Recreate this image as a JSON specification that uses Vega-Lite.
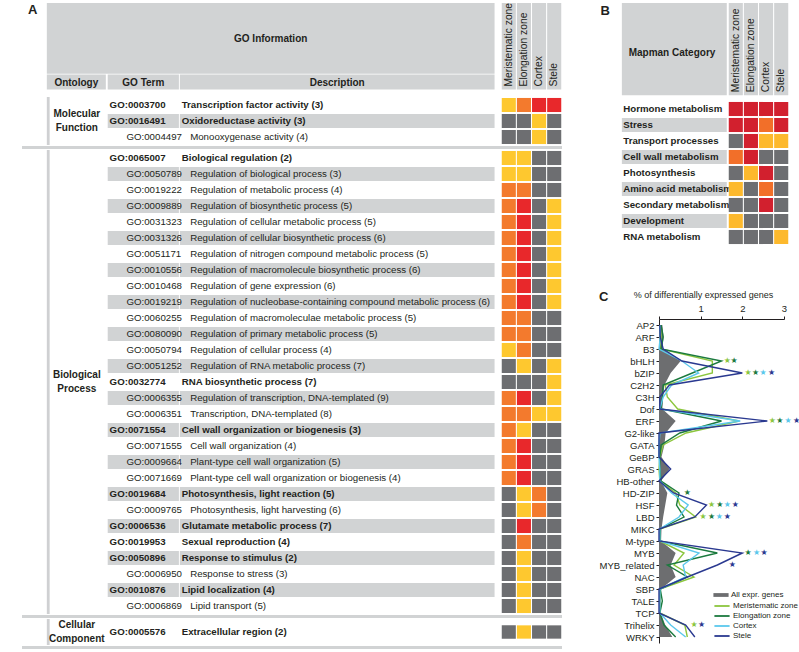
{
"$schema":"https://vega.github.io/schema/vega-lite/v6.json",
"background":"white",
"padding":{"left":0,"top":2,"right":0,"bottom":2},
"datasets":{
"zones":[{"key":"M","zone":"Meristematic zone"},{"key":"E","zone":"Elongation zone"},{"key":"C","zone":"Cortex"},{"key":"S","zone":"Stele"}],
"go":[
{"ont":"Molecular Function","id":"GO:0003700","desc":"Transcription factor activity (3)","lvl":0,"M":"1","E":"2","C":"3","S":"3"},
{"ont":"Molecular Function","id":"GO:0016491","desc":"Oxidoreductase activity (3)","lvl":0,"M":"ns","E":"ns","C":"1","S":"ns"},
{"ont":"Molecular Function","id":"GO:0004497","desc":"Monooxygenase activity (4)","lvl":1,"M":"ns","E":"ns","C":"1","S":"ns"},
{"ont":"Biological Process","id":"GO:0065007","desc":"Biological regulation (2)","lvl":0,"M":"1","E":"1","C":"ns","S":"ns"},
{"ont":"Biological Process","id":"GO:0050789","desc":"Regulation of biological process (3)","lvl":1,"M":"1","E":"1","C":"ns","S":"ns"},
{"ont":"Biological Process","id":"GO:0019222","desc":"Regulation of metabolic process (4)","lvl":1,"M":"2","E":"2","C":"ns","S":"ns"},
{"ont":"Biological Process","id":"GO:0009889","desc":"Regulation of biosynthetic process (5)","lvl":1,"M":"2","E":"3","C":"ns","S":"1"},
{"ont":"Biological Process","id":"GO:0031323","desc":"Regulation of cellular metabolic process (5)","lvl":1,"M":"2","E":"3","C":"ns","S":"1"},
{"ont":"Biological Process","id":"GO:0031326","desc":"Regulation of cellular biosynthetic process (6)","lvl":1,"M":"2","E":"3","C":"ns","S":"1"},
{"ont":"Biological Process","id":"GO:0051171","desc":"Regulation of nitrogen compound metabolic process (5)","lvl":1,"M":"2","E":"3","C":"ns","S":"1"},
{"ont":"Biological Process","id":"GO:0010556","desc":"Regulation of macromolecule biosynthetic process (6)","lvl":1,"M":"2","E":"3","C":"ns","S":"1"},
{"ont":"Biological Process","id":"GO:0010468","desc":"Regulation of gene expression (6)","lvl":1,"M":"2","E":"3","C":"ns","S":"1"},
{"ont":"Biological Process","id":"GO:0019219","desc":"Regulation of nucleobase-containing compound metabolic process (6)","lvl":1,"M":"2","E":"3","C":"ns","S":"1"},
{"ont":"Biological Process","id":"GO:0060255","desc":"Regulation of macromoleculae metabolic process (5)","lvl":1,"M":"2","E":"2","C":"ns","S":"ns"},
{"ont":"Biological Process","id":"GO:0080090","desc":"Regulation of primary metabolic process (5)","lvl":1,"M":"2","E":"2","C":"ns","S":"ns"},
{"ont":"Biological Process","id":"GO:0050794","desc":"Regulation of cellular process (4)","lvl":1,"M":"1","E":"2","C":"ns","S":"ns"},
{"ont":"Biological Process","id":"GO:0051252","desc":"Regulation of RNA metabolic process (7)","lvl":1,"M":"ns","E":"1","C":"ns","S":"1"},
{"ont":"Biological Process","id":"GO:0032774","desc":"RNA biosynthetic process (7)","lvl":0,"M":"ns","E":"ns","C":"ns","S":"1"},
{"ont":"Biological Process","id":"GO:0006355","desc":"Regulation of transcription, DNA-templated (9)","lvl":1,"M":"2","E":"3","C":"ns","S":"1"},
{"ont":"Biological Process","id":"GO:0006351","desc":"Transcription, DNA-templated (8)","lvl":1,"M":"2","E":"2","C":"1","S":"1"},
{"ont":"Biological Process","id":"GO:0071554","desc":"Cell wall organization or biogenesis (3)","lvl":0,"M":"2","E":"1","C":"ns","S":"ns"},
{"ont":"Biological Process","id":"GO:0071555","desc":"Cell wall organization (4)","lvl":1,"M":"2","E":"3","C":"ns","S":"ns"},
{"ont":"Biological Process","id":"GO:0009664","desc":"Plant-type cell wall organization (5)","lvl":1,"M":"2","E":"3","C":"ns","S":"ns"},
{"ont":"Biological Process","id":"GO:0071669","desc":"Plant-type cell wall organization or biogenesis (4)","lvl":1,"M":"2","E":"3","C":"ns","S":"ns"},
{"ont":"Biological Process","id":"GO:0019684","desc":"Photosynthesis, light reaction (5)","lvl":0,"M":"ns","E":"1","C":"2","S":"ns"},
{"ont":"Biological Process","id":"GO:0009765","desc":"Photosynthesis, light harvesting (6)","lvl":1,"M":"ns","E":"1","C":"2","S":"ns"},
{"ont":"Biological Process","id":"GO:0006536","desc":"Glutamate metabolic process (7)","lvl":0,"M":"ns","E":"3","C":"ns","S":"ns"},
{"ont":"Biological Process","id":"GO:0019953","desc":"Sexual reproduction (4)","lvl":0,"M":"ns","E":"2","C":"ns","S":"ns"},
{"ont":"Biological Process","id":"GO:0050896","desc":"Response to stimulus (2)","lvl":0,"M":"ns","E":"1","C":"ns","S":"ns"},
{"ont":"Biological Process","id":"GO:0006950","desc":"Response to stress (3)","lvl":1,"M":"ns","E":"1","C":"ns","S":"ns"},
{"ont":"Biological Process","id":"GO:0010876","desc":"Lipid localization (4)","lvl":0,"M":"ns","E":"1","C":"ns","S":"ns"},
{"ont":"Biological Process","id":"GO:0006869","desc":"Lipid transport (5)","lvl":1,"M":"ns","E":"1","C":"ns","S":"ns"},
{"ont":"Cellular Component","id":"GO:0005576","desc":"Extracellular region (2)","lvl":0,"M":"ns","E":"1","C":"ns","S":"ns"}
],
"mapman":[
{"cat":"Hormone metabolism","M":"3","E":"3","C":"3","S":"3"},
{"cat":"Stress","M":"3","E":"3","C":"2","S":"3"},
{"cat":"Transport processes","M":"ns","E":"3","C":"1","S":"1"},
{"cat":"Cell wall metabolism","M":"2","E":"3","C":"ns","S":"ns"},
{"cat":"Photosynthesis","M":"ns","E":"1","C":"3","S":"ns"},
{"cat":"Amino acid metabolism","M":"1","E":"ns","C":"2","S":"ns"},
{"cat":"Secondary metabolism","M":"ns","E":"ns","C":"3","S":"ns"},
{"cat":"Development","M":"1","E":"ns","C":"ns","S":"ns"},
{"cat":"RNA metabolism","M":"ns","E":"ns","C":"ns","S":"1"}
],
"tf":[
{"f":"AP2","all":0.08,"mer":0.03,"elo":0.05,"cor":0.02,"ste":0.02},
{"f":"ARF","all":0.11,"mer":0.05,"elo":0.1,"cor":0.03,"ste":0.03},
{"f":"B3","all":0.08,"mer":0.05,"elo":0.05,"cor":0.0,"ste":0.1},
{"f":"bHLH","all":0.52,"mer":1.28,"elo":1.5,"cor":0.55,"ste":0.55},
{"f":"bZIP","all":0.28,"mer":1.28,"elo":0.8,"cor":0.95,"ste":2.0},
{"f":"C2H2","all":0.13,"mer":0.15,"elo":0.1,"cor":0.3,"ste":0.25},
{"f":"C3H","all":0.1,"mer":0.2,"elo":0.08,"cor":0.1,"ste":0.02},
{"f":"Dof","all":0.08,"mer":0.45,"elo":0.05,"cor":0.02,"ste":0.02},
{"f":"ERF","all":0.4,"mer":1.92,"elo":1.5,"cor":1.95,"ste":2.6},
{"f":"G2-like","all":0.16,"mer":0.65,"elo":0.5,"cor":0.02,"ste":0.0},
{"f":"GATA","all":0.13,"mer":0.1,"elo":0.05,"cor":0.0,"ste":0.0},
{"f":"GeBP","all":0.06,"mer":0.02,"elo":0.02,"cor":0.0,"ste":0.0},
{"f":"GRAS","all":0.25,"mer":0.0,"elo":0.02,"cor":0.02,"ste":0.28},
{"f":"HB-other","all":0.05,"mer":0.02,"elo":0.05,"cor":0.02,"ste":0.0},
{"f":"HD-ZIP","all":0.2,"mer":0.4,"elo":0.48,"cor":0.3,"ste":0.35},
{"f":"HSF","all":0.15,"mer":0.5,"elo":0.42,"cor":0.7,"ste":1.14},
{"f":"LBD","all":0.1,"mer":0.88,"elo":0.6,"cor":0.48,"ste":0.86},
{"f":"MIKC","all":0.06,"mer":0.02,"elo":0.03,"cor":0.02,"ste":0.0},
{"f":"M-type","all":0.05,"mer":0.02,"elo":0.02,"cor":0.02,"ste":0.0},
{"f":"MYB","all":0.4,"mer":0.6,"elo":1.4,"cor":0.96,"ste":2.0},
{"f":"MYB_related","all":0.28,"mer":0.36,"elo":0.2,"cor":0.58,"ste":1.4},
{"f":"NAC","all":0.4,"mer":0.84,"elo":0.68,"cor":0.64,"ste":0.68},
{"f":"SBP","all":0.05,"mer":0.02,"elo":0.03,"cor":0.02,"ste":0.0},
{"f":"TALE","all":0.04,"mer":0.02,"elo":0.08,"cor":0.02,"ste":0.0},
{"f":"TCP","all":0.04,"mer":0.02,"elo":0.02,"cor":0.02,"ste":0.0},
{"f":"Trihelix","all":0.15,"mer":0.62,"elo":0.12,"cor":0.28,"ste":0.64},
{"f":"WRKY","all":0.32,"mer":0.68,"elo":0.4,"cor":0.64,"ste":0.86}
],
"stars":[
{"f":"bHLH","s":"mer","x":1.64},{"f":"bHLH","s":"elo","x":1.8},
{"f":"bZIP","s":"mer","x":2.14},{"f":"bZIP","s":"elo","x":2.32},{"f":"bZIP","s":"cor","x":2.5},{"f":"bZIP","s":"ste","x":2.7},
{"f":"ERF","s":"mer","x":2.72},{"f":"ERF","s":"elo","x":2.9},{"f":"ERF","s":"cor","x":3.1},{"f":"ERF","s":"ste","x":3.3},
{"f":"HD-ZIP","s":"elo","x":0.68},
{"f":"HSF","s":"mer","x":1.26},{"f":"HSF","s":"elo","x":1.46},{"f":"HSF","s":"cor","x":1.64},{"f":"HSF","s":"ste","x":1.83},
{"f":"LBD","s":"mer","x":1.06},{"f":"LBD","s":"elo","x":1.26},{"f":"LBD","s":"cor","x":1.45},{"f":"LBD","s":"ste","x":1.64},
{"f":"MYB","s":"elo","x":2.14},{"f":"MYB","s":"cor","x":2.34},{"f":"MYB","s":"ste","x":2.52},
{"f":"MYB_related","s":"ste","x":1.76},
{"f":"Trihelix","s":"mer","x":0.84},{"f":"Trihelix","s":"ste","x":1.02}
]
},
"hconcat":[
{"vconcat":[
 {"width":562,"height":93,
  "layer":[
   {"data":{"values":[{}]},
    "layer":[
     {"mark":{"type":"rect","color":"#d1d3d4"},"encoding":{"x":{"datum":0,"type":"quantitative","scale":{"domain":[-22,540]},"axis":null},"x2":{"datum":478},"y":{"datum":0,"type":"quantitative","scale":{"domain":[0,93],"reverse":true},"axis":null},"y2":{"datum":76}}},
     {"mark":{"type":"rect","color":"#d1d3d4"},"encoding":{"x":{"datum":0,"type":"quantitative"},"x2":{"datum":63},"y":{"datum":77,"type":"quantitative"},"y2":{"datum":93}}},
     {"mark":{"type":"rect","color":"#d1d3d4"},"encoding":{"x":{"datum":65,"type":"quantitative"},"x2":{"datum":141},"y":{"datum":77,"type":"quantitative"},"y2":{"datum":93}}},
     {"mark":{"type":"rect","color":"#d1d3d4"},"encoding":{"x":{"datum":142,"type":"quantitative"},"x2":{"datum":478},"y":{"datum":77,"type":"quantitative"},"y2":{"datum":93}}},
     {"mark":{"type":"text","text":"GO Information","fontWeight":"bold","fontSize":10},"encoding":{"x":{"datum":239,"type":"quantitative"},"y":{"datum":39,"type":"quantitative"}}},
     {"mark":{"type":"text","text":"Ontology","fontWeight":"bold","fontSize":10},"encoding":{"x":{"datum":31.5,"type":"quantitative"},"y":{"datum":85.5,"type":"quantitative"}}},
     {"mark":{"type":"text","text":"GO Term","fontWeight":"bold","fontSize":10},"encoding":{"x":{"datum":103,"type":"quantitative"},"y":{"datum":85.5,"type":"quantitative"}}},
     {"mark":{"type":"text","text":"Description","fontWeight":"bold","fontSize":10},"encoding":{"x":{"datum":310,"type":"quantitative"},"y":{"datum":85.5,"type":"quantitative"}}},
     {"mark":{"type":"text","text":"A","fontWeight":"bold","fontSize":13},"encoding":{"x":{"datum":-15,"type":"quantitative"},"y":{"datum":8,"type":"quantitative"}}}
    ]},
   {"data":{"name":"zones"},
    "layer":[
     {"mark":{"type":"rect","color":"#d1d3d4"},"encoding":{"x":{"field":"key","type":"nominal","scale":{"domain":["M","E","C","S"],"paddingInner":0.07,"paddingOuter":0.05,"range":[501,562]},"axis":null},"y":{"datum":0,"type":"quantitative"},"y2":{"datum":93}}},
     {"mark":{"type":"text","angle":270,"align":"left","baseline":"middle","fontSize":10.3,"dx":3},"encoding":{"x":{"field":"key","type":"nominal"},"y":{"datum":93,"type":"quantitative"},"text":{"field":"zone"}}}
    ]}
  ],
  "resolve":{"scale":{"x":"independent"}}},
 {"width":562,"height":48,
  "data":{"name":"go"},
  "transform":[{"filter":"datum.ont == 'Molecular Function'"},{"window":[{"op":"row_number","as":"rn"}]}],
  "layer":[
   {"layer":[
     {"mark":{"type":"rect","color":"#d1d3d4"},"encoding":{"x":{"datum":65,"type":"quantitative","scale":{"domain":[-22,540]},"axis":null},"x2":{"datum":141},"y":{"field":"id","type":"nominal","sort":null,"axis":null,"scale":{"paddingInner":0.12,"paddingOuter":0.06}},"opacity":{"condition":{"test":"datum.rn % 2 == 0","value":1},"value":0}}},
     {"mark":{"type":"rect","color":"#d1d3d4"},"encoding":{"x":{"datum":142,"type":"quantitative"},"x2":{"datum":478},"y":{"field":"id","type":"nominal","sort":null},"opacity":{"condition":{"test":"datum.rn % 2 == 0","value":1},"value":0}}},
     {"mark":{"type":"text","align":"left","fontWeight":"bold"},"encoding":{"x":{"datum":67,"type":"quantitative"},"y":{"field":"id","type":"nominal","sort":null},"text":{"field":"id"},"opacity":{"condition":{"test":"datum.lvl == 0","value":1},"value":0}}},
     {"mark":{"type":"text","align":"left"},"encoding":{"x":{"datum":85,"type":"quantitative"},"y":{"field":"id","type":"nominal","sort":null},"text":{"field":"id"},"opacity":{"condition":{"test":"datum.lvl == 1","value":1},"value":0}}},
     {"mark":{"type":"text","align":"left","fontWeight":"bold"},"encoding":{"x":{"datum":144,"type":"quantitative"},"y":{"field":"id","type":"nominal","sort":null},"text":{"field":"desc"},"opacity":{"condition":{"test":"datum.lvl == 0","value":1},"value":0}}},
     {"mark":{"type":"text","align":"left"},"encoding":{"x":{"datum":153,"type":"quantitative"},"y":{"field":"id","type":"nominal","sort":null},"text":{"field":"desc"},"opacity":{"condition":{"test":"datum.lvl == 1","value":1},"value":0}}}
   ]},
   {"transform":[{"fold":["M","E","C","S"],"as":["key","v"]}],"mark":{"type":"rect"},"encoding":{"x":{"field":"key","type":"nominal","scale":{"domain":["M","E","C","S"],"paddingInner":0.07,"paddingOuter":0.05,"range":[501,562]},"axis":null},"y":{"field":"id","type":"nominal","sort":null,"axis":null,"scale":{"paddingInner":0.12,"paddingOuter":0.06}},"color":{"field":"v","type":"nominal","scale":{"domain":["ns","1","2","3"],"range":["#6d6e71","#fec82f","#f37a2d","#e8282b"]},"legend":null}}},
   {"layer":[
     {"data":{"values":[{}]},"mark":{"type":"rect","color":"#cfd0d2"},"encoding":{"x":{"datum":0,"type":"quantitative","scale":{"domain":[-22,540]},"axis":null},"x2":{"datum":3},"y":{"datum":0,"type":"quantitative","scale":{"domain":[0,1]},"axis":null},"y2":{"datum":1}}},
     {"transform":[{"aggregate":[{"op":"count","as":"n"}],"groupby":["ont"]}],"mark":{"type":"text","fontWeight":"bold","fontSize":10,"lineBreak":" ","lineHeight":14,"dy":-7},"encoding":{"x":{"datum":32,"type":"quantitative"},"y":{"datum":0.5,"type":"quantitative"},"text":{"field":"ont"}}}
   ]}
  ],
  "resolve":{"scale":{"x":"independent","y":"independent"}}},
 {"width":562,"height":3,"data":{"values":[{}]},"mark":{"type":"rect","color":"#d1d3d4"},"encoding":{"x":{"datum":0,"type":"quantitative","scale":{"domain":[-22,540]},"axis":null},"x2":{"datum":540},"y":{"datum":0,"type":"quantitative","scale":{"domain":[0,1]},"axis":null},"y2":{"datum":1}}},
 {"width":562,"height":464,
  "data":{"name":"go"},
  "transform":[{"filter":"datum.ont == 'Biological Process'"},{"window":[{"op":"row_number","as":"rn"}]}],
  "layer":[
   {"layer":[
     {"mark":{"type":"rect","color":"#d1d3d4"},"encoding":{"x":{"datum":65,"type":"quantitative","scale":{"domain":[-22,540]},"axis":null},"x2":{"datum":141},"y":{"field":"id","type":"nominal","sort":null,"axis":null,"scale":{"paddingInner":0.12,"paddingOuter":0.06}},"opacity":{"condition":{"test":"datum.rn % 2 == 0","value":1},"value":0}}},
     {"mark":{"type":"rect","color":"#d1d3d4"},"encoding":{"x":{"datum":142,"type":"quantitative"},"x2":{"datum":478},"y":{"field":"id","type":"nominal","sort":null},"opacity":{"condition":{"test":"datum.rn % 2 == 0","value":1},"value":0}}},
     {"mark":{"type":"text","align":"left","fontWeight":"bold"},"encoding":{"x":{"datum":67,"type":"quantitative"},"y":{"field":"id","type":"nominal","sort":null},"text":{"field":"id"},"opacity":{"condition":{"test":"datum.lvl == 0","value":1},"value":0}}},
     {"mark":{"type":"text","align":"left"},"encoding":{"x":{"datum":85,"type":"quantitative"},"y":{"field":"id","type":"nominal","sort":null},"text":{"field":"id"},"opacity":{"condition":{"test":"datum.lvl == 1","value":1},"value":0}}},
     {"mark":{"type":"text","align":"left","fontWeight":"bold"},"encoding":{"x":{"datum":144,"type":"quantitative"},"y":{"field":"id","type":"nominal","sort":null},"text":{"field":"desc"},"opacity":{"condition":{"test":"datum.lvl == 0","value":1},"value":0}}},
     {"mark":{"type":"text","align":"left"},"encoding":{"x":{"datum":153,"type":"quantitative"},"y":{"field":"id","type":"nominal","sort":null},"text":{"field":"desc"},"opacity":{"condition":{"test":"datum.lvl == 1","value":1},"value":0}}}
   ]},
   {"transform":[{"fold":["M","E","C","S"],"as":["key","v"]}],"mark":{"type":"rect"},"encoding":{"x":{"field":"key","type":"nominal","scale":{"domain":["M","E","C","S"],"paddingInner":0.07,"paddingOuter":0.05,"range":[501,562]},"axis":null},"y":{"field":"id","type":"nominal","sort":null,"axis":null,"scale":{"paddingInner":0.12,"paddingOuter":0.06}},"color":{"field":"v","type":"nominal","scale":{"domain":["ns","1","2","3"],"range":["#6d6e71","#fec82f","#f37a2d","#e8282b"]},"legend":null}}},
   {"layer":[
     {"data":{"values":[{}]},"mark":{"type":"rect","color":"#cfd0d2"},"encoding":{"x":{"datum":0,"type":"quantitative","scale":{"domain":[-22,540]},"axis":null},"x2":{"datum":3},"y":{"datum":0,"type":"quantitative","scale":{"domain":[0,1]},"axis":null},"y2":{"datum":1}}},
     {"transform":[{"aggregate":[{"op":"count","as":"n"}],"groupby":["ont"]}],"mark":{"type":"text","fontWeight":"bold","fontSize":10,"lineBreak":" ","lineHeight":14,"dy":-7},"encoding":{"x":{"datum":32,"type":"quantitative"},"y":{"datum":0.5,"type":"quantitative"},"text":{"field":"ont"}}}
   ]}
  ],
  "resolve":{"scale":{"x":"independent","y":"independent"}}},
 {"width":562,"height":3,"data":{"values":[{}]},"mark":{"type":"rect","color":"#d1d3d4"},"encoding":{"x":{"datum":0,"type":"quantitative","scale":{"domain":[-22,540]},"axis":null},"x2":{"datum":540},"y":{"datum":0,"type":"quantitative","scale":{"domain":[0,1]},"axis":null},"y2":{"datum":1}}},
 {"width":562,"height":26,
  "data":{"name":"go"},
  "transform":[{"filter":"datum.ont == 'Cellular Component'"}],
  "layer":[
   {"layer":[
     {"mark":{"type":"text","align":"left","fontWeight":"bold"},"encoding":{"x":{"datum":67,"type":"quantitative","scale":{"domain":[-22,540]},"axis":null},"y":{"field":"id","type":"nominal","sort":null,"axis":null,"scale":{"paddingInner":0.12,"paddingOuter":0.42}},"text":{"field":"id"}}},
     {"mark":{"type":"text","align":"left","fontWeight":"bold"},"encoding":{"x":{"datum":144,"type":"quantitative"},"y":{"field":"id","type":"nominal","sort":null},"text":{"field":"desc"}}}
   ]},
   {"transform":[{"fold":["M","E","C","S"],"as":["key","v"]}],"mark":{"type":"rect"},"encoding":{"x":{"field":"key","type":"nominal","scale":{"domain":["M","E","C","S"],"paddingInner":0.07,"paddingOuter":0.05,"range":[501,562]},"axis":null},"y":{"field":"id","type":"nominal","sort":null,"axis":null,"scale":{"paddingInner":0.12,"paddingOuter":0.42}},"color":{"field":"v","type":"nominal","scale":{"domain":["ns","1","2","3"],"range":["#6d6e71","#fec82f","#f37a2d","#e8282b"]},"legend":null}}},
   {"layer":[
     {"data":{"values":[{}]},"mark":{"type":"rect","color":"#cfd0d2"},"encoding":{"x":{"datum":0,"type":"quantitative","scale":{"domain":[-22,540]},"axis":null},"x2":{"datum":3},"y":{"datum":0,"type":"quantitative","scale":{"domain":[0,1]},"axis":null},"y2":{"datum":1}}},
     {"transform":[{"aggregate":[{"op":"count","as":"n"}],"groupby":["ont"]}],"mark":{"type":"text","fontWeight":"bold","fontSize":10,"lineBreak":" ","lineHeight":14,"dy":-7},"encoding":{"x":{"datum":32,"type":"quantitative"},"y":{"datum":0.5,"type":"quantitative"},"text":{"field":"ont"}}}
   ]}
  ],
  "resolve":{"scale":{"x":"independent","y":"independent"}}},
 {"width":562,"height":3,"data":{"values":[{}]},"mark":{"type":"rect","color":"#d1d3d4"},"encoding":{"x":{"datum":0,"type":"quantitative","scale":{"domain":[-22,540]},"axis":null},"x2":{"datum":540},"y":{"datum":0,"type":"quantitative","scale":{"domain":[0,1]},"axis":null},"y2":{"datum":1}}}
],"spacing":1},
{"vconcat":[
 {"vconcat":[
  {"width":130,"height":96,
   "layer":[
    {"data":{"values":[{}]},
     "layer":[
      {"mark":{"type":"rect","color":"#d1d3d4"},"encoding":{"x":{"datum":0,"type":"quantitative","scale":{"domain":[46,176]},"axis":null},"x2":{"datum":113},"y":{"datum":0,"type":"quantitative","scale":{"domain":[0,96],"reverse":true},"axis":null},"y2":{"datum":96}}},
      {"mark":{"type":"text","text":"Mapman Category","fontWeight":"bold","fontSize":10},"encoding":{"x":{"datum":54,"type":"quantitative"},"y":{"datum":52,"type":"quantitative"}}},
      {"mark":{"type":"text","text":"B","fontWeight":"bold","fontSize":13},"encoding":{"x":{"datum":-18,"type":"quantitative"},"y":{"datum":8,"type":"quantitative"}}}
     ]},
    {"data":{"name":"zones"},
     "layer":[
      {"mark":{"type":"rect","color":"#d1d3d4"},"encoding":{"x":{"field":"key","type":"nominal","scale":{"domain":["M","E","C","S"],"paddingInner":0.07,"paddingOuter":0.05,"range":[69,130]},"axis":null},"y":{"datum":0,"type":"quantitative"},"y2":{"datum":96}}},
      {"mark":{"type":"text","angle":270,"align":"left","baseline":"middle","fontSize":10.3,"dx":3},"encoding":{"x":{"field":"key","type":"nominal"},"y":{"datum":96,"type":"quantitative"},"text":{"field":"zone"}}}
     ]}
   ],
   "resolve":{"scale":{"x":"independent"}}},
  {"width":130,"height":144,
   "data":{"name":"mapman"},
   "transform":[{"window":[{"op":"row_number","as":"rn"}]}],
   "layer":[
    {"layer":[
      {"mark":{"type":"rect","color":"#d1d3d4"},"encoding":{"x":{"datum":0,"type":"quantitative","scale":{"domain":[46,176]},"axis":null},"x2":{"datum":113},"y":{"field":"cat","type":"nominal","sort":null,"axis":null,"scale":{"paddingInner":0.12,"paddingOuter":0.06}},"opacity":{"condition":{"test":"datum.rn % 2 == 0","value":1},"value":0}}},
      {"mark":{"type":"text","align":"left","fontWeight":"bold","fontSize":9.7},"encoding":{"x":{"datum":1.5,"type":"quantitative"},"y":{"field":"cat","type":"nominal","sort":null},"text":{"field":"cat"}}}
    ]},
    {"transform":[{"fold":["M","E","C","S"],"as":["key","v"]}],"mark":{"type":"rect"},"encoding":{"x":{"field":"key","type":"nominal","scale":{"domain":["M","E","C","S"],"paddingInner":0.07,"paddingOuter":0.05,"range":[69,130]},"axis":null},"y":{"field":"cat","type":"nominal","sort":null},"color":{"field":"v","type":"nominal","scale":{"domain":["ns","1","2","3"],"range":["#6d6e71","#fdb92d","#f26f29","#d2202e"]},"legend":null}}}
   ],
   "resolve":{"scale":{"x":"independent"}}}
 ],"spacing":2},
 {"width":125,"height":324,
  "title":{"text":"C","anchor":"start","frame":"bounds","fontSize":13,"fontWeight":"bold","dy":14,"offset":0},
  "data":{"name":"tf"},
  "layer":[
   {"mark":{"type":"area","line":false},
    "encoding":{
     "x":{"field":"all","type":"quantitative","stack":null,"scale":{"domain":[0,3],"nice":false},
          "axis":{"orient":"top","values":[0,1,2,3],"labelExpr":"datum.value == 0 ? '' : datum.label","title":"% of differentially expressed genes","titleFontSize":9,"titleFontWeight":"normal","titleColor":"#231f20","titleX":44,"titlePadding":4,"labelFontSize":9.5,"labelColor":"#231f20","tickSize":3,"tickColor":"#231f20","domainColor":"#231f20","labelPadding":3,"grid":false,"labelFlush":false}},
     "y":{"field":"f","type":"nominal","sort":["AP2","ARF","B3","bHLH","bZIP","C2H2","C3H","Dof","ERF","G2-like","GATA","GeBP","GRAS","HB-other","HD-ZIP","HSF","LBD","MIKC","M-type","MYB","MYB_related","NAC","SBP","TALE","TCP","Trihelix","WRKY"],"scale":{"type":"point","padding":0.5},
          "axis":{"title":null,"labelFontSize":9.5,"labelColor":"#231f20","tickSize":3,"tickColor":"#231f20","domainColor":"#231f20","labelPadding":2,"grid":false}},
     "fill":{"datum":"All expr. genes","type":"nominal","scale":{"domain":["All expr. genes"],"range":["#6d6e70"]},
       "legend":{"title":null,"orient":"none","legendX":57,"legendY":271,"symbolType":"M-1.6,-0.4H1.6V0.4H-1.6Z","symbolSize":90,"symbolStrokeWidth":0,"labelFontSize":8,"labelColor":"#231f20","labelOffset":5}},
     "order":{"value":null}}},
   {"transform":[{"fold":["mer","elo","cor","ste"],"as":["s","v"]}],
    "mark":{"type":"line","strokeWidth":1.4},
    "encoding":{
     "x":{"field":"v","type":"quantitative","title":"% of differentially expressed genes"},
     "y":{"field":"f","type":"nominal","sort":["AP2","ARF","B3","bHLH","bZIP","C2H2","C3H","Dof","ERF","G2-like","GATA","GeBP","GRAS","HB-other","HD-ZIP","HSF","LBD","MIKC","M-type","MYB","MYB_related","NAC","SBP","TALE","TCP","Trihelix","WRKY"]},
     "color":{"field":"s","type":"nominal","scale":{"domain":["mer","elo","cor","ste"],"range":["#8cc63e","#1b7a3e","#5bc8ec","#2a3990"]},
       "legend":{"title":null,"orient":"none","legendX":57,"legendY":281,"symbolType":"M-1.6,0H1.6","symbolSize":90,"symbolStrokeWidth":1.8,"labelFontSize":8,"labelColor":"#231f20","labelOffset":5,"rowPadding":0,
         "labelExpr":"datum.label == 'mer' ? 'Meristematic zone' : datum.label == 'elo' ? 'Elongation zone' : datum.label == 'cor' ? 'Cortex' : 'Stele'"}},
     "order":{"value":null}}},
   {"data":{"name":"stars"},
    "mark":{"type":"text","text":"★","fontSize":8,"font":"DejaVu Sans"},
    "encoding":{
     "x":{"field":"x","type":"quantitative","title":"% of differentially expressed genes"},
     "y":{"field":"f","type":"nominal","sort":["AP2","ARF","B3","bHLH","bZIP","C2H2","C3H","Dof","ERF","G2-like","GATA","GeBP","GRAS","HB-other","HD-ZIP","HSF","LBD","MIKC","M-type","MYB","MYB_related","NAC","SBP","TALE","TCP","Trihelix","WRKY"]},
     "color":{"field":"s","type":"nominal","legend":null}}}
  ]}
],"spacing":45,"resolve":{"scale":{"color":"independent","fill":"independent"}}}
],
"spacing":37,
"resolve":{"scale":{"color":"independent","fill":"independent"}},
"config":{
 "view":{"stroke":null},
 "font":"Liberation Sans",
 "text":{"font":"Liberation Sans","color":"#231f20","fontSize":9.7},
 "axis":{"labelFont":"Liberation Sans","titleFont":"Liberation Sans"},
 "legend":{"labelFont":"Liberation Sans"},
 "title":{"font":"Liberation Sans","color":"#231f20"}
}
}
